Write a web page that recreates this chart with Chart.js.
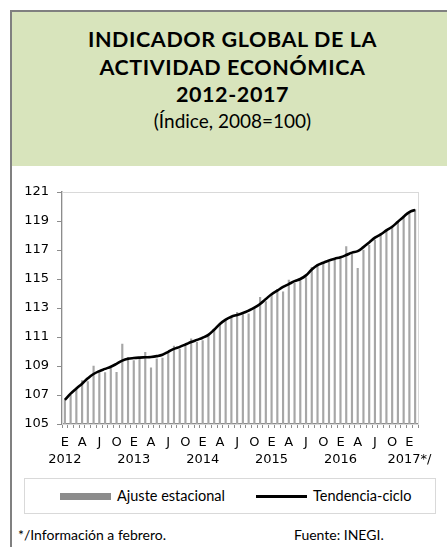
<!DOCTYPE html>
<html>
<head>
<meta charset="utf-8">
<script src="https://cdn.jsdelivr.net/npm/chart.js@4/dist/chart.umd.min.js"></script>
<style>
  body { margin: 0; width: 447px; height: 547px; overflow: hidden; background: #fff; position: relative; }
  #frame { position: absolute; left: 10px; top: 10px; width: 460px; height: 560px;
           border-left: 2px solid #808080; border-top: 2px solid #808080; }
  #header { position: absolute; left: 12px; top: 12px; width: 441px; height: 154px; background: #d8e4bc; }
  .t { position: absolute; left: 0; width: 441px; text-align: center; font-family: Lato, sans-serif; color: #000; }
  .b { font-weight: bold; font-size: 21.5px; line-height: 21.5px; letter-spacing: 0.6px; }
  #chartBox { position: absolute; left: 13px; top: 170px; }
  #legend { position: absolute; left: 24px; top: 478px; width: 410px; height: 34px;
            border: 1px solid #d9d9d9; font-family: Lato, sans-serif; font-size: 14.5px; }
  .item { position: absolute; top: 8px; line-height: 18px; }
  .sw { position: absolute; }
  .foot { position: absolute; top: 527px; font-family: Lato, sans-serif; font-size: 14px; line-height: 16px; }
</style>
</head>
<body>
<div id="frame"></div>
<div id="header">
  <div class="t b" style="top:17px">INDICADOR GLOBAL DE LA</div>
  <div class="t b" style="top:45px">ACTIVIDAD ECONÓMICA</div>
  <div class="t b" style="top:72px">2012-2017</div>
  <div class="t" style="top:99px; font-size:19px; line-height:20px">(Índice, 2008=100)</div>
</div>
<div id="chartBox"><canvas id="chart" width="434" height="302"></canvas></div>
<div id="legend">
  <span class="sw" style="left:35px; top:14px; width:51px; height:7px; background:#8c8c8c"></span>
  <span class="item" style="left:92px">Ajuste estacional</span>
  <span class="sw" style="left:231px; top:16px; width:51px; height:2.5px; background:#000"></span>
  <span class="item" style="left:288px">Tendencia-ciclo</span>
</div>
<div class="foot" style="left:18px">*/Información a febrero.</div>
<div class="foot" style="left:294px">Fuente: INEGI.</div>

<script>
// meses (iniciales) y años para el eje
const monthInitials = ['E', 'F', 'M', 'A', 'M', 'J', 'J', 'A', 'S', 'O', 'N', 'D'];
const years = ['2012', '2013', '2014', '2015', '2016', '2017*/'];

// enero 2012 - febrero 2017
const ajusteEstacional = [
  106.66, 107.0, 107.4, 108.0, 107.92, 109.0, 108.6, 108.54, 108.84, 108.57,
  110.52, 109.6, 109.37, 109.53, 109.94, 108.88, 109.5, 109.55, 109.9, 110.38,
  110.17, 110.35, 110.88, 110.65, 110.75, 111.2, 111.4, 111.92, 112.22, 112.45,
  112.7, 112.55, 112.6, 113.0, 113.74, 113.45, 113.9, 114.28, 114.12, 114.93,
  114.7, 114.95, 115.1, 115.8, 116.0, 116.1, 116.15, 116.33, 116.45, 117.23,
  116.72, 115.74, 117.0, 117.34, 117.69, 118.1, 118.43, 118.56, 118.88, 119.34,
  119.64, 119.8
];
const tendenciaCiclo = [
  106.66, 107.1, 107.45, 107.78, 108.15, 108.45, 108.65, 108.8, 108.95, 109.15,
  109.37, 109.5, 109.55, 109.58, 109.6, 109.62, 109.68, 109.78, 109.98, 110.18,
  110.32, 110.48, 110.65, 110.8, 110.95, 111.15, 111.5, 111.9, 112.2, 112.4,
  112.52, 112.65, 112.82, 113.02, 113.28, 113.62, 113.95, 114.2, 114.45, 114.65,
  114.85, 115.0, 115.25, 115.65, 115.95, 116.12, 116.28, 116.4, 116.5, 116.65,
  116.82, 116.92, 117.2, 117.52, 117.85, 118.08, 118.35, 118.6, 118.95, 119.3,
  119.62, 119.76
];

// etiquetas: inicial del mes cada trimestre, año bajo enero
const labels = ajusteEstacional.map((v, i) => {
  const m = i % 12;
  const y = Math.floor(i / 12);
  if (m % 3 !== 0) return ['', ''];
  return [monthInitials[m], m === 0 ? years[y] : ''];
});

// borde gris claro del área de trazado
const plotBorder = {
  id: 'plotBorder',
  beforeDatasetsDraw(chart) {
    const a = chart.chartArea;
    const c = chart.ctx;
    c.save();
    c.strokeStyle = '#d9d9d9';
    c.lineWidth = 1;
    c.strokeRect(a.left + 0.5, a.top + 0.5, a.right - a.left, a.bottom - a.top);
    c.restore();
  }
};

const ctx = document.getElementById('chart').getContext('2d');
new Chart(ctx, {
  type: 'bar',
  data: {
    labels: labels,
    datasets: [
      {
        type: 'line',
        label: 'Tendencia-ciclo',
        data: tendenciaCiclo,
        borderColor: '#000',
        borderWidth: 2.6,
        pointRadius: 0,
        tension: 0.4,
        order: 0
      },
      {
        label: 'Ajuste estacional',
        data: ajusteEstacional,
        backgroundColor: '#a6a6a6',
        barThickness: 1.5,
        order: 1
      }
    ]
  },
  options: {
    responsive: false,
    animation: false,
    layout: { padding: { left: 0, right: 29, top: 22, bottom: 0 } },
    plugins: { legend: { display: false }, tooltip: { enabled: false } },
    scales: {
      x: {
        grid: { drawOnChartArea: false, offset: true, tickLength: 4, color: '#8c8c8c' },
        border: { color: '#8c8c8c', width: 1.5 },
        ticks: {
          autoSkip: false, maxRotation: 0, minRotation: 0, padding: 6, color: '#000',
          font: { family: 'DejaVu Sans', size: 13, lineHeight: 1.3 }
        },
        afterFit: s => { s.height = 48; }
      },
      y: {
        min: 105,
        max: 121,
        grid: { drawOnChartArea: false, tickLength: 5, color: '#8c8c8c' },
        border: { color: '#8c8c8c', width: 1.5 },
        ticks: {
          stepSize: 2, padding: 8, color: '#000',
          font: { family: 'DejaVu Sans', size: 13 }
        },
        afterFit: s => { s.width = 49; }
      }
    }
  },
  plugins: [plotBorder]
});
</script>
</body>
</html>
